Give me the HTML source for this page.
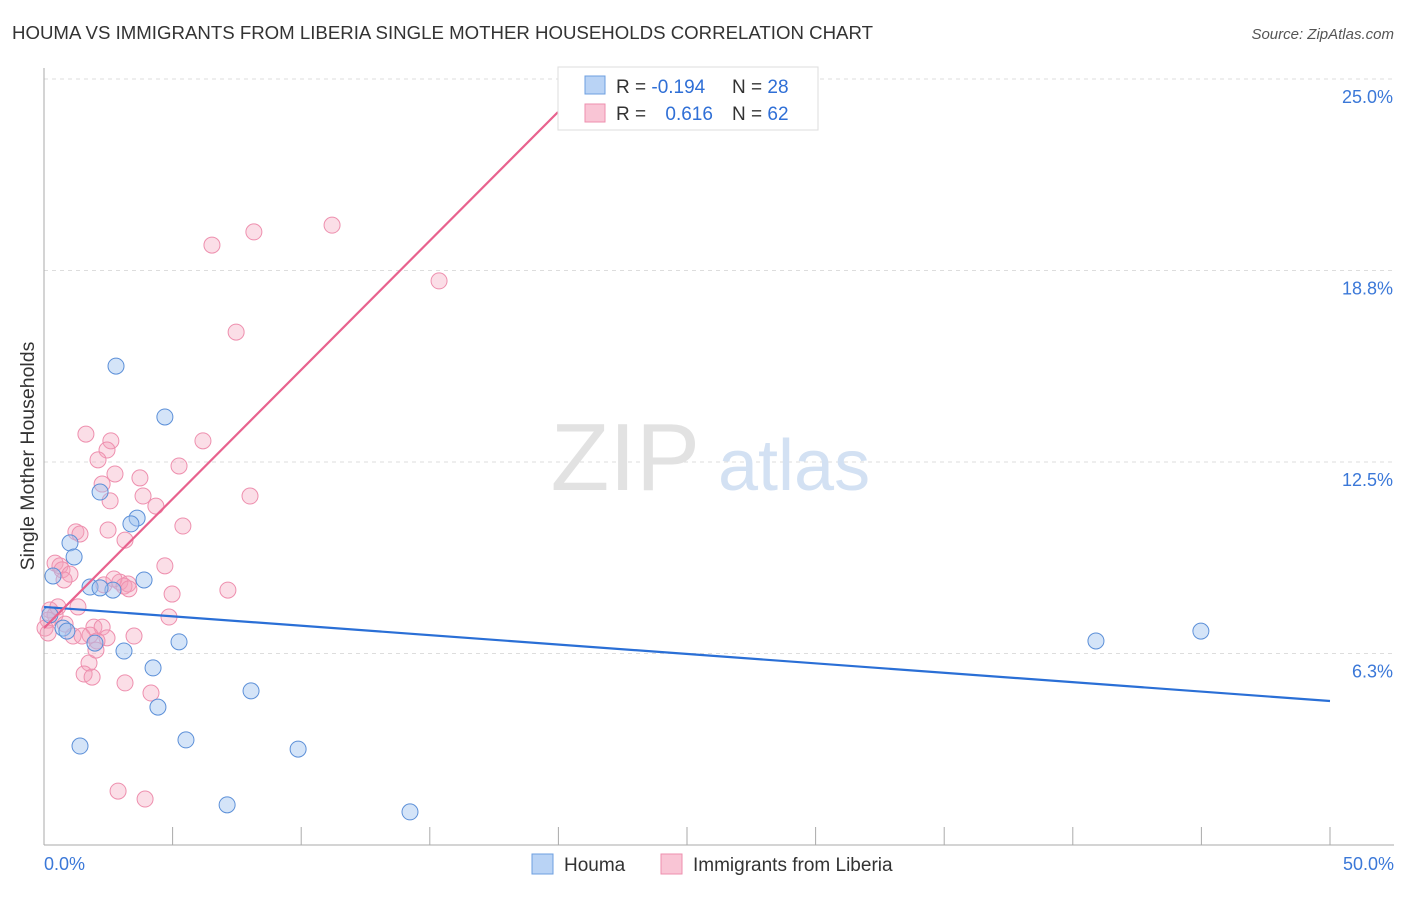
<!DOCTYPE html>
<html><head><meta charset="utf-8"><style>
body{margin:0;background:#fff;font-family:"Liberation Sans",sans-serif}
svg text{font-family:"Liberation Sans",sans-serif}
</style></head><body>
<svg width="1406" height="892">
<text x="12" y="39" font-size="18" fill="#333" textLength="861" lengthAdjust="spacingAndGlyphs">HOUMA VS IMMIGRANTS FROM LIBERIA SINGLE MOTHER HOUSEHOLDS CORRELATION CHART</text>
<text x="1394" y="39" font-size="15" fill="#555" text-anchor="end" font-style="italic">Source: ZipAtlas.com</text>
<g id="grid"></g>
<text x="700" y="490" font-size="96" fill="#e2e2e2" text-anchor="end" font-family="Liberation Serif">ZIP</text>
<text x="718" y="490" font-size="72" fill="#d3e1f3">atlas</text>
<g id="pts"></g>
<g id="lines"></g>
<text transform="translate(34,456) rotate(-90)" font-size="19.5" fill="#333" text-anchor="middle">Single Mother Households</text>
<g>
<rect x="558" y="67" width="260" height="63" fill="#fff" stroke="#ddd"/>
<rect x="585" y="76" width="20" height="18" fill="#b9d3f5" stroke="#6d9fe0"/>
<rect x="585" y="104" width="20" height="18" fill="#f9c5d5" stroke="#ee8fae"/>
<text x="616" y="93" font-size="19" fill="#333">R = <tspan fill="#2f6fd6">-0.194</tspan></text>
<text x="732" y="93" font-size="19" fill="#333">N = <tspan fill="#2f6fd6">28</tspan></text>
<text x="616" y="120" font-size="19" fill="#333">R = <tspan fill="#2f6fd6" dx="14">0.616</tspan></text>
<text x="732" y="120" font-size="19" fill="#333">N = <tspan fill="#2f6fd6">62</tspan></text>
</g>
<g>
<rect x="532" y="854" width="21" height="20" fill="#b9d3f5" stroke="#6d9fe0"/>
<text x="564" y="871" font-size="19" fill="#333">Houma</text>
<rect x="661" y="854" width="21" height="20" fill="#f9c5d5" stroke="#ee8fae"/>
<text x="693" y="871" font-size="19" fill="#333">Immigrants from Liberia</text>
</g>
</svg>
<script>
const yTicks=[6.25,12.5,18.75,25];
const yTickLabels=["6.3%","12.5%","18.8%","25.0%"];
const xTicks=[0,5,10,15,20,25,30,35,40,45,50];
const houmaX=[2.80,4.70,2.18,3.62,3.38,1.01,1.17,0.35,3.89,1.79,2.68,0.74,1.98,5.25,3.11,4.24,8.05,4.43,1.40,5.52,9.88,7.12,14.23,40.90,44.98,0.89,0.23,2.18];
const houmaY=[15.63,13.97,11.52,10.67,10.48,9.86,9.40,8.78,8.65,8.42,8.32,7.08,6.59,6.63,6.33,5.78,5.03,4.50,3.23,3.43,3.13,1.31,1.08,6.66,6.98,6.98,7.51,8.39];
const libX=[6.53,8.16,11.20,15.36,7.47,1.63,2.60,6.18,2.45,2.10,5.25,2.76,3.73,2.26,3.85,8.01,2.57,4.35,5.40,1.24,1.40,2.49,3.15,0.43,0.62,0.70,1.01,0.78,4.70,2.95,2.33,3.27,2.72,3.11,3.30,4.98,7.15,1.32,0.23,0.43,0.16,4.86,0.82,1.94,2.26,1.79,1.13,1.48,3.50,2.45,2.06,1.75,1.56,1.87,3.15,4.16,2.88,3.93,0.04,0.16,2.02,0.54];
const libY=[19.58,20.01,20.23,18.41,16.74,13.41,13.19,13.19,12.89,12.57,12.37,12.11,11.98,11.78,11.39,11.39,11.23,11.06,10.41,10.22,10.15,10.28,9.95,9.20,9.11,8.98,8.84,8.65,9.11,8.58,8.49,8.52,8.68,8.45,8.36,8.19,8.32,7.77,7.67,7.51,7.34,7.44,7.21,7.11,7.11,6.85,6.82,6.82,6.82,6.76,6.66,5.94,5.58,5.48,5.29,4.96,1.76,1.50,7.08,6.92,6.36,7.77];
const houmaTrend=[[0,7.77],[50,4.70]];
const libTrend=[[0,7.08],[19.98,23.92]];
const NS="http://www.w3.org/2000/svg";
const sx=v=>44+v*25.72, sy=v=>845-v*30.64;
function mk(t,a,p){const e=document.createElementNS(NS,t);for(const k in a)e.setAttribute(k,a[k]);p.appendChild(e);return e;}
const g=document.getElementById('grid');
yTicks.forEach((t,i)=>{
 const l=mk('line',{x1:44,x2:1394,y1:sy(t),y2:sy(t),stroke:'#ddd','stroke-dasharray':'4,4'},g);
 
 
 const tx=mk('text',{x:1393,y:sy(t)+24,'font-size':18,fill:'#3b78d8','text-anchor':'end'},g);
 tx.textContent=yTickLabels[i];
 
 
});
mk('line',{x1:44,x2:44,y1:68,y2:845,stroke:'#aaa'},g);
mk('line',{x1:44,x2:1394,y1:845,y2:845,stroke:'#aaa'},g);
xTicks.forEach(t=>{const l=mk('line',{x1:sx(t),x2:sx(t),y1:827,y2:845,stroke:'#aaa'},g);
 
 });
const x0=mk('text',{x:44,y:870,'font-size':18,fill:'#3b78d8'},g);x0.textContent='0.0%';


const x1=mk('text',{x:1394,y:870,'font-size':18,fill:'#3b78d8','text-anchor':'end'},g);x1.textContent='50.0%';


const P=document.getElementById('pts');
libX.forEach((x,i)=>{const c=mk('circle',{cx:sx(x),cy:sy(libY[i]),r:8,fill:'rgba(244,160,186,0.35)',stroke:'#ee8fae','stroke-width':1},P);
 
 });
houmaX.forEach((x,i)=>{const c=mk('circle',{cx:sx(x),cy:sy(houmaY[i]),r:8,fill:'rgba(160,195,240,0.45)',stroke:'#5b8fd8','stroke-width':1},P);
 
 });
const L=document.getElementById('lines');
const hl=mk('line',{x1:sx(houmaTrend[0][0]),y1:sy(houmaTrend[0][1]),x2:sx(houmaTrend[1][0]),y2:sy(houmaTrend[1][1]),stroke:'#2a6fd6','stroke-width':2.2},L);


const ll=mk('line',{x1:sx(libTrend[0][0]),y1:sy(libTrend[0][1]),x2:sx(libTrend[1][0]),y2:sy(libTrend[1][1]),stroke:'#e8628e','stroke-width':2.2},L);


</script>
</body></html>
